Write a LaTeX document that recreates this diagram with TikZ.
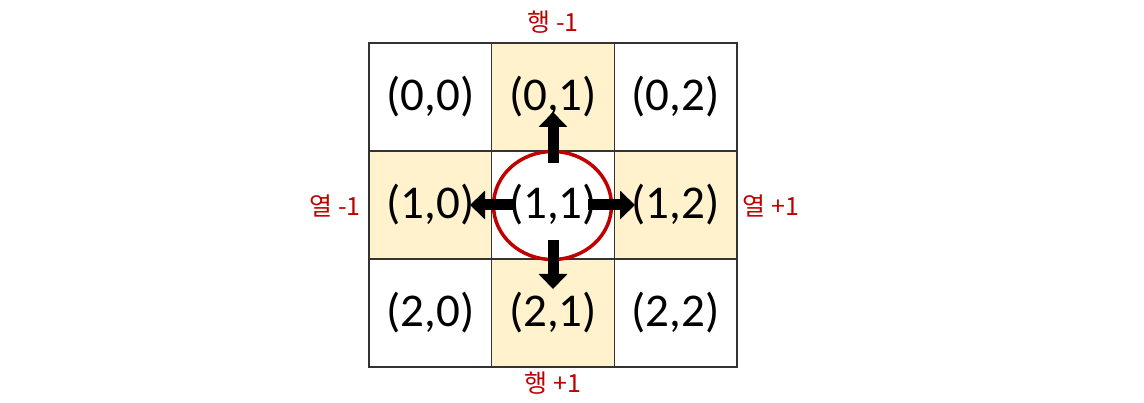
\documentclass[tikz,border=0pt]{standalone}
\usepackage{fontspec}
\setmainfont{Carlito}
\newfontfamily\krfont{Noto Sans CJK KR}
\usetikzlibrary{arrows.meta}
\definecolor{cream}{HTML}{FFF2CC}
\definecolor{gridc}{HTML}{333333}
\definecolor{redc}{HTML}{C00000}
\tikzset{
  cell/.style={draw=gridc, line width=1.4pt, minimum width=122.7pt, minimum height=108pt, inner sep=0pt, font=\fontsize{47}{52}\selectfont, text=black},
  hl/.style={cell, fill=cream},
  lbl/.style={font=\krfont\fontsize{25}{29}\selectfont, text=redc, inner sep=0pt},
  mv/.style={line width=11pt, -{Triangle[width=28pt,length=15pt]}, black},
}
\begin{document}
\begin{tikzpicture}[x=1pt,y=-1pt]
\useasboundingbox (0,0) rectangle (1144,403);
\node[cell] (c00) at (430.35,97) {(0,0)};
\node[hl]   (c01) at (553,97) {(0,1)};
\node[cell] (c02) at (675.65,97) {(0,2)};
\node[hl]   (c10) at (430.35,205) {(1,0)};
\node[cell] (c11) at (553,205) {};
\node[hl]   (c12) at (675.65,205) {(1,2)};
\node[cell] (c20) at (430.35,313) {(2,0)};
\node[hl]   (c21) at (553,313) {(2,1)};
\node[cell] (c22) at (675.65,313) {(2,2)};
\draw[redc, line width=3.5pt] (552.5,205.5) ellipse [x radius=59, y radius=54];
\coordinate (u0) at ([yshift=42pt]c11.center);
\coordinate (u1) at ([yshift=93pt]c11.center);
\coordinate (d0) at ([yshift=-35pt]c11.center);
\coordinate (d1) at ([yshift=-84pt]c11.center);
\coordinate (l0) at ([xshift=-37pt]c11.center);
\coordinate (l1) at ([xshift=-83pt]c11.center);
\coordinate (r0) at ([xshift=35pt]c11.center);
\coordinate (r1) at ([xshift=82pt]c11.center);
\draw[mv] (u0) -- (u1);
\draw[mv] (d0) -- (d1);
\draw[mv] (l0) -- (l1);
\draw[mv] (r0) -- (r1);
\node[font=\fontsize{47}{52}\selectfont, inner sep=0pt] (t11) at (c11.center) {(1,1)};
\node[lbl] (top) at (553,22) {행 -1};
\node[lbl] (left) at (335,206) {열 -1};
\node[lbl] (right) at (771,206) {열 +1};
\node[lbl] (bottom) at (553,383) {행 +1};
\end{tikzpicture}
\end{document}
